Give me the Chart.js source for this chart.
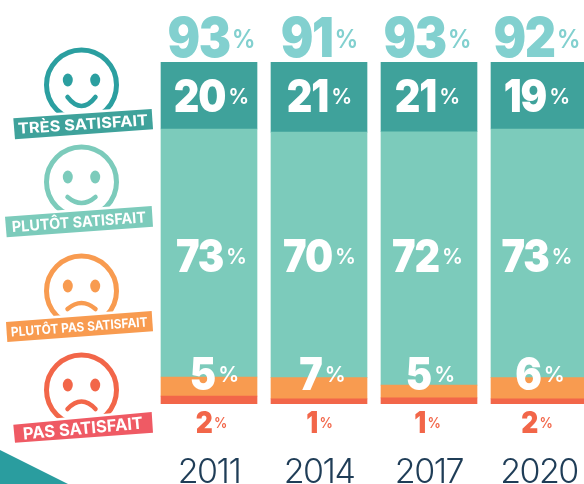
<!DOCTYPE html>
<html>
<head>
<meta charset="utf-8">
<title>Satisfaction</title>
<script src="https://cdn.jsdelivr.net/npm/chart.js@4/dist/chart.umd.min.js"></script>
<style>
  html, body { margin: 0; padding: 0; background: #fff; overflow: hidden; width: 584px; height: 484px; }
  canvas { display: block; }
</style>
</head>
<body>
<canvas id="chart" width="600" height="484"></canvas>
<script>
const years = ['2011', '2014', '2017', '2020'];

// segment heights as measured on the picture (they differ a little from the printed labels)
const tresValues = [19.6, 20.5, 20.5, 19.6];
const plutotValues = [72.5, 71.8, 74.1, 72.7];
const plutotPasValues = [5.6, 6.2, 3.7, 6.2];
const pasValues = [2.3, 1.5, 1.8, 1.5];

// printed labels
const totalLabels = ['93', '91', '93', '92'];
const tresLabels = ['20', '21', '21', '19'];
const plutotLabels = ['73', '70', '72', '73'];
const plutotPasLabels = ['5', '7', '5', '6'];
const pasLabels = ['2', '1', '1', '2'];

const categoryNames = ['TRÈS SATISFAIT', 'PLUTÔT SATISFAIT', 'PLUTÔT PAS SATISFAIT', 'PAS SATISFAIT'];

const DARK_TEAL = '#3fa29b';
const TEAL = '#7ccbbb';
const ORANGE = '#f89b50';
const RED = '#f26649';
const FONT = 'Inter';

// the labels sit a bit off the bar centres in the original
const colShift = [2.5, 0.5, -1.5, -2];

function drawLabel(ctx, x, baseline, num, color, numSize, pctSize, gap) {
    const sx = 0.88;
    ctx.fillStyle = color;
    ctx.textBaseline = 'alphabetic';
    ctx.textAlign = 'left';
    ctx.font = '900 ' + numSize + 'px ' + FONT;
    ctx.letterSpacing = (-numSize / 36) + 'px';
    const w1 = ctx.measureText(num).width * sx;
    ctx.letterSpacing = '0px';
    ctx.font = '600 ' + pctSize + 'px ' + FONT;
    const w2 = ctx.measureText('%').width * 0.95;
    const left = x - (w1 + gap + w2) / 2;

    ctx.save();
    ctx.translate(left, baseline);
    ctx.scale(sx, 1);
    ctx.font = '900 ' + numSize + 'px ' + FONT;
    ctx.letterSpacing = (-numSize / 36) + 'px';
    ctx.fillText(num, 0, 0);
    ctx.restore();

    ctx.save();
    ctx.translate(left + w1 + gap, baseline - numSize * 0.17);
    ctx.scale(0.95, 1);
    ctx.font = '600 ' + pctSize + 'px ' + FONT;
    ctx.fillText('%', 0, 0);
    ctx.restore();
}

function drawFace(ctx, cy, color, mouthEnd, mouthCtrl) {
    const cx = 81.5;
    ctx.strokeStyle = color;
    ctx.fillStyle = color;
    ctx.lineWidth = 5;
    ctx.beginPath();
    ctx.arc(cx, cy, 35, 0, Math.PI * 2);
    ctx.stroke();
    [-13.7, 13.7].forEach(function (dx) {
        ctx.beginPath();
        ctx.ellipse(cx + dx, cy - 5, 5, 6.5, 0, 0, Math.PI * 2);
        ctx.fill();
    });
    ctx.lineWidth = 4.5;
    ctx.lineCap = 'round';
    ctx.beginPath();
    ctx.moveTo(cx - 14, cy + mouthEnd);
    ctx.quadraticCurveTo(cx, cy + mouthCtrl, cx + 14, cy + mouthEnd);
    ctx.stroke();
}

function drawBanner(ctx, pts, color, text, size, textLeft, textRight) {
    ctx.beginPath();
    pts.forEach(function (p, i) { i ? ctx.lineTo(p[0], p[1]) : ctx.moveTo(p[0], p[1]); });
    ctx.closePath();
    ctx.strokeStyle = '#fff';
    ctx.lineWidth = 5;
    ctx.lineJoin = 'miter';
    ctx.stroke();
    ctx.fillStyle = color;
    ctx.fill();

    const angle = Math.atan2(pts[1][1] - pts[0][1], pts[1][0] - pts[0][0]);
    const midY = (pts[0][1] + pts[1][1] + pts[2][1] + pts[3][1]) / 4;
    const midX = (textLeft + textRight) / 2;
    ctx.save();
    ctx.translate(midX, midY);
    ctx.rotate(angle);
    ctx.font = '700 ' + size + 'px ' + FONT;
    const w = ctx.measureText(text).width;
    ctx.scale((textRight - textLeft) / w, 1);
    ctx.fillStyle = '#fff';
    ctx.textAlign = 'center';
    ctx.textBaseline = 'middle';
    ctx.fillText(text, 0, 1);
    ctx.restore();
}

const decorPlugin = {
    id: 'decor',
    beforeDraw: function (chart) {
        // tightens the year tick labels
        chart.ctx.letterSpacing = '-1.5px';
    },
    afterDatasetsDraw: function (chart) {
        const ctx = chart.ctx;
        const y = chart.scales.y;
        const x = chart.scales.x;
        const top = y.getPixelForValue(100);
        const bottom = y.getPixelForValue(0);

        ctx.letterSpacing = '0px';
        ctx.save();
        years.forEach(function (yr, i) {
            const cx = x.getPixelForValue(i) + colShift[i];
            drawLabel(ctx, cx, top - 5, totalLabels[i], '#82d0cf', 55, 25, 2);
            drawLabel(ctx, cx, top + 50, tresLabels[i], '#fff', 45, 22, 3);
            drawLabel(ctx, cx, 272, plutotLabels[i], '#fff', 45, 22, 3);
            drawLabel(ctx, cx + 3, bottom - 14, plutotPasLabels[i], '#fff', 45, 22, 3);
            drawLabel(ctx, cx, bottom + 29, pasLabels[i], RED, 30, 14, 2);
        });

        // faces
        drawFace(ctx, 85, '#2b9fa0', 12, 30);
        drawFace(ctx, 182, TEAL, 15, 27);
        drawFace(ctx, 291, ORANGE, 18, 6);
        drawFace(ctx, 390, RED, 19, 4);

        // banners
        drawBanner(ctx, [[13.3, 118.3], [151.7, 109], [153, 129.3], [15, 139.3]], DARK_TEAL, categoryNames[0], 15, 17.7, 148);
        drawBanner(ctx, [[5, 216.7], [151.7, 206], [153, 226.7], [6.7, 237.3]], TEAL, categoryNames[1], 15, 11.7, 146);
        drawBanner(ctx, [[6, 322], [151.7, 311], [153, 331.3], [7.3, 342]], ORANGE, categoryNames[2], 13, 10.7, 147.7);
        drawBanner(ctx, [[13.3, 424.7], [151.7, 412], [153, 432.7], [15, 442.7]], '#ef5a64', categoryNames[3], 16.5, 22.7, 143);

        // corner triangle
        ctx.fillStyle = '#2a9d9f';
        ctx.beginPath();
        ctx.moveTo(0, 450);
        ctx.lineTo(68, 484);
        ctx.lineTo(0, 484);
        ctx.closePath();
        ctx.fill();
        ctx.restore();
    }
};

new Chart(document.getElementById('chart').getContext('2d'), {
    type: 'bar',
    data: {
        labels: years,
        datasets: [
            { label: categoryNames[3], data: pasValues, backgroundColor: RED },
            { label: categoryNames[2], data: plutotPasValues, backgroundColor: ORANGE },
            { label: categoryNames[1], data: plutotValues, backgroundColor: TEAL },
            { label: categoryNames[0], data: tresValues, backgroundColor: DARK_TEAL }
        ]
    },
    options: {
        responsive: false,
        animation: false,
        barThickness: 96,
        layout: { padding: { left: 154, right: 6, top: 62, bottom: 0 } },
        plugins: { legend: { display: false }, tooltip: { enabled: false } },
        scales: {
            x: {
                stacked: true,
                grid: { display: false },
                border: { display: false },
                afterFit: function (scale) {
                    scale.height = 80;
                    scale.paddingLeft = 0;
                    scale.paddingRight = 0;
                },
                ticks: {
                    color: '#1f3d57',
                    maxRotation: 0,
                    autoSkip: false,
                    padding: 40,
                    font: { family: FONT, size: 34, weight: '300' }
                }
            },
            y: {
                stacked: true,
                display: false,
                min: 0,
                max: 100
            }
        }
    },
    plugins: [decorPlugin]
});
</script>
</body>
</html>
